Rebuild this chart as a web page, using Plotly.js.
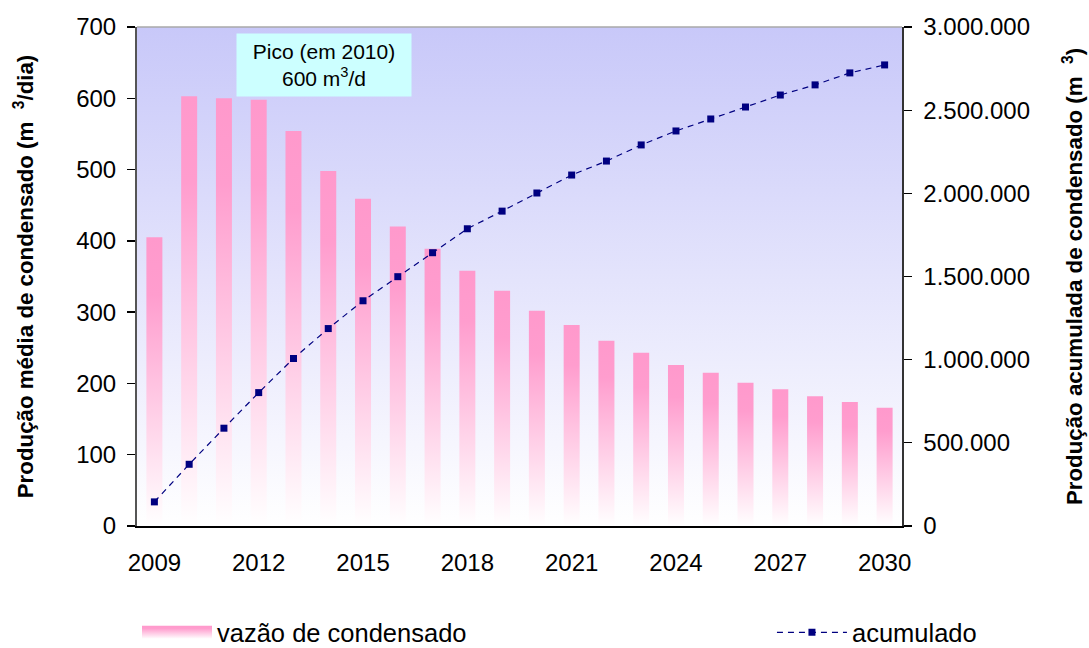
<!DOCTYPE html>
<html>
<head>
<meta charset="utf-8">
<script src="https://cdn.plot.ly/plotly-3.0.1.min.js"></script>
<style>
html, body { margin: 0; padding: 0; background: #ffffff; }
#chart { width: 1089px; height: 648px; }
</style>
</head>
<body>
<div id="chart"></div>
<script>
// ---- data ----
const years = [2009, 2010, 2011, 2012, 2013, 2014, 2015, 2016, 2017, 2018, 2019,
               2020, 2021, 2022, 2023, 2024, 2025, 2026, 2027, 2028, 2029, 2030];
const rate = [405, 603, 600, 598, 554, 498, 459, 420, 389, 358, 330,
              302, 282, 260, 243, 226, 215, 201, 192, 182, 174, 166];
const cumulative = [145000, 371000, 588000, 802000, 1007000, 1187000, 1354000, 1499000,
                    1643000, 1787000, 1893000, 2002000, 2110000, 2194000, 2291000,
                    2375000, 2447000, 2519000, 2591000, 2652000, 2724000, 2772000];
const tickYears = [2009, 2012, 2015, 2018, 2021, 2024, 2027, 2030];
const seriesNames = ['vazão de condensado', 'acumulado'];
const leftTitle = 'Produção média de condensado (m&nbsp;&nbsp;<sup>3</sup>/dia)';
const rightTitle = 'Produção acumulada de condensado (m&nbsp;&nbsp;<sup>3</sup>)';
const peakText = 'Pico (em 2010)<br>600 m<sup>3</sup>/d';

const FONT = '"Liberation Sans", Arial, sans-serif';

const bgSvg = '<svg xmlns="http://www.w3.org/2000/svg" width="100" height="100" preserveAspectRatio="none">' +
  '<defs><linearGradient id="g" x1="0" y1="0" x2="0" y2="1">' +
  '<stop offset="0" stop-color="#c8c8f9"/><stop offset="1" stop-color="#ffffff"/>' +
  '</linearGradient></defs><rect width="100" height="100" fill="url(#g)"/></svg>';

const traces = [
  {
    type: 'bar', x: years, y: rate, name: seriesNames[0],
    xaxis: 'x', yaxis: 'y', width: 0.46, legend: 'legend',
    marker: { color: '#ff99cc', line: { width: 0 } },
    hoverinfo: 'x+y'
  },
  {
    type: 'scatter', mode: 'lines+markers', x: years, y: cumulative, name: seriesNames[1],
    xaxis: 'x', yaxis: 'y2', legend: 'legend2',
    line: { color: '#000080', width: 1.2, dash: '6px,5px' },
    marker: { symbol: 'square', size: 7, color: '#000080' },
    hoverinfo: 'x+y'
  }
];

const xRange = [2008.5, 2030.5];
const tickCommon = { showgrid: false, zeroline: false, fixedrange: true };

const layout = {
  width: 1089, height: 648,
  margin: { l: 137, r: 187, t: 27, b: 122, autoexpand: false },
  paper_bgcolor: '#ffffff', plot_bgcolor: 'rgba(0,0,0,0)',
  separators: ',.',
  font: { family: FONT, size: 24, color: '#000000' },
  showlegend: true,
  xaxis: Object.assign({}, tickCommon, {
    range: xRange, tickmode: 'array', tickvals: tickYears,
    ticktext: tickYears.map(String), ticks: '',
    showline: true, linecolor: '#000000', linewidth: 1.5,
    ticklabelstandoff: 15, tickfont: { size: 24 }
  }),
  xaxis2: Object.assign({}, tickCommon, {
    overlaying: 'x', anchor: 'y', range: xRange, tickmode: 'linear', tick0: 2008.5, dtick: 1,
    ticks: 'outside', ticklen: 8, tickwidth: 1.3, tickcolor: '#000000', showticklabels: false, showline: false
  }),
  xaxis3: Object.assign({}, tickCommon, {
    overlaying: 'x', anchor: 'y', range: xRange, tickmode: 'linear', tick0: 2008.5, dtick: 1,
    ticks: 'inside', ticklen: 8, tickwidth: 1.3, tickcolor: '#000000', showticklabels: false, showline: false
  }),
  yaxis: Object.assign({}, tickCommon, {
    range: [0, 700], tickmode: 'linear', tick0: 0, dtick: 100,
    ticks: 'outside', ticklen: 8, tickwidth: 1.3, tickcolor: '#000000',
    showline: true, linecolor: '#555555', linewidth: 2,
    ticklabelstandoff: 6, tickfont: { size: 24 },
    title: { text: leftTitle, font: { size: 22.3, weight: 'bold' }, standoff: 36 }
  }),
  yaxis3: Object.assign({}, tickCommon, {
    overlaying: 'y', anchor: 'x', side: 'left', range: [0, 700], tickmode: 'linear', tick0: 0, dtick: 100,
    ticks: 'inside', ticklen: 8, tickwidth: 1.3, tickcolor: '#000000', showticklabels: false
  }),
  yaxis2: Object.assign({}, tickCommon, {
    overlaying: 'y', anchor: 'x', side: 'right', range: [0, 3000000], tickmode: 'linear', tick0: 0, dtick: 500000,
    tickformat: ',d', ticks: 'outside', ticklen: 8, tickwidth: 1.3, tickcolor: '#000000',
    showline: true, linecolor: '#333333', linewidth: 1.5,
    ticklabelstandoff: 7, tickfont: { size: 24 },
    title: { text: rightTitle, font: { size: 22.3, weight: 'bold' }, standoff: 37 }
  }),
  yaxis4: Object.assign({}, tickCommon, {
    overlaying: 'y', anchor: 'x', side: 'right', range: [0, 3000000], tickmode: 'linear', tick0: 0, dtick: 500000,
    ticks: 'inside', ticklen: 8, tickwidth: 1.3, tickcolor: '#000000', showticklabels: false
  }),
  legend: {
    x: 0.0, xanchor: 'left', y: -0.214, yanchor: 'middle', orientation: 'h',
    itemwidth: 70, font: { size: 25.5 }, bgcolor: 'rgba(0,0,0,0)'
  },
  legend2: {
    x: 0.83, xanchor: 'left', y: -0.214, yanchor: 'middle', orientation: 'h',
    itemwidth: 70, font: { size: 25.5 }, bgcolor: 'rgba(0,0,0,0)'
  },
  annotations: [{
    xref: 'paper', yref: 'paper', x: 0.2444, y: 0.924, xanchor: 'center', yanchor: 'middle',
    text: peakText, showarrow: false, bgcolor: '#ccffff', width: 174, height: 62, borderpad: 0,
    font: { size: 21, color: '#000000' }, align: 'center'
  }],
  shapes: [{
    type: 'line', xref: 'paper', yref: 'paper', x0: 0, x1: 1, y0: 1, y1: 1,
    line: { color: '#a8a8a8', width: 1.5 }
  }],
  images: [{
    source: 'data:image/svg+xml;charset=utf-8,' + encodeURIComponent(bgSvg),
    xref: 'paper', yref: 'paper', x: 0, y: 1, sizex: 1, sizey: 1,
    xanchor: 'left', yanchor: 'top', sizing: 'stretch', layer: 'below'
  }]
};

function decorate() {
  const gd = document.getElementById('chart');
  const NS = 'http://www.w3.org/2000/svg';
  if (!document.getElementById('barGrad')) {
    const svg = gd.querySelector('svg.main-svg');
    let defs = svg.querySelector('defs');
    if (!defs) { defs = document.createElementNS(NS, 'defs'); svg.insertBefore(defs, svg.firstChild); }
    const lg = document.createElementNS(NS, 'linearGradient');
    lg.setAttribute('id', 'barGrad');
    lg.setAttribute('x1', '0'); lg.setAttribute('y1', '0');
    lg.setAttribute('x2', '0'); lg.setAttribute('y2', '1');
    [[0, '#ff99cc'], [0.2, '#ff9dce'], [1, '#ffffff']].forEach(function (s) {
      const st = document.createElementNS(NS, 'stop');
      st.setAttribute('offset', s[0]); st.setAttribute('stop-color', s[1]);
      lg.appendChild(st);
    });
    defs.appendChild(lg);
  }
  gd.querySelectorAll('g.trace.bars path').forEach(function (p) { p.style.fill = 'url(#barGrad)'; });
  gd.querySelectorAll('g.legend g.legendpoints path').forEach(function (p) {
    p.setAttribute('d', 'M35,6.5H-35V-6.5H35Z');
    p.style.fill = 'url(#barGrad)';
    p.style.stroke = 'none';
  });
}

Plotly.newPlot('chart', traces, layout, { displayModeBar: false, staticPlot: true }).then(function (gd) {
  decorate();
  gd.on('plotly_afterplot', decorate);
  setTimeout(decorate, 30);
  setTimeout(decorate, 200);
});
</script>
</body>
</html>
